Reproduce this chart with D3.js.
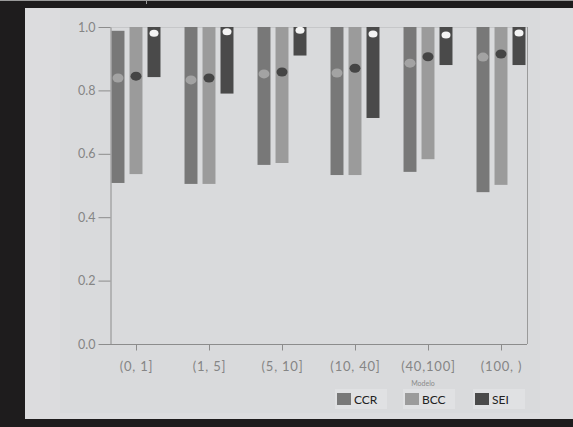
<!DOCTYPE html>
<html>
<head>
<meta charset="utf-8">
<script src="https://cdn.jsdelivr.net/npm/d3@7"></script>
<style>
    body { margin: 0; background: #1e1c1d; }
    svg { display: block; }
    .tick text { font-family: "Lato", "DejaVu Sans", sans-serif; fill: #858585; }
</style>
</head>
<body>
<div id="chart"></div>
<script>
// Categories on the x axis (bins) and the three series
var categories = ["(0, 1]", "(1, 5]", "(5, 10]", "(10, 40]", "(40,100]", "(100, )"];
var series = ["CCR", "BCC", "SEI"];
var yTicks = [0, 0.2, 0.4, 0.6, 0.8, 1.0];

// Range bars (max -> min) with a mean marker
var ccrMax = [0.988, 1, 1, 1, 1, 1];
var ccrMin = [0.508, 0.505, 0.565, 0.533, 0.543, 0.479];
var ccrMean = [0.839, 0.833, 0.852, 0.855, 0.886, 0.905];

var bccMax = [1, 1, 1, 1, 1, 1];
var bccMin = [0.536, 0.505, 0.571, 0.533, 0.583, 0.502];
var bccMean = [0.845, 0.839, 0.858, 0.870, 0.906, 0.915];

var seiMax = [1, 1, 1, 1, 1, 1];
var seiMin = [0.842, 0.790, 0.910, 0.713, 0.880, 0.880];
var seiMean = [0.980, 0.985, 0.990, 0.978, 0.975, 0.981];

(function () {
    "use strict";

    var W = 573, H = 427;
    var barFill = {CCR: "#787878", BCC: "#9b9b9b", SEI: "#4a4a4a"};
    var dotFill = {CCR: "#a3a3a3", BCC: "#454545", SEI: "#f4f4f4"};
    var dotR = {CCR: [5.5, 4.5], BCC: [5.5, 4.5], SEI: [4.5, 3.5]};
    var table = {
        CCR: {max: ccrMax, min: ccrMin, mean: ccrMean},
        BCC: {max: bccMax, min: bccMin, mean: bccMean},
        SEI: {max: seiMax, min: seiMin, mean: seiMean}
    };

    var svg = d3.select("#chart").append("svg")
        .attr("width", W).attr("height", H);

    // black frame and light page
    svg.append("rect").attr("width", W).attr("height", H).attr("fill", "#1e1c1d");
    svg.append("line").attr("x1", 0).attr("x2", W).attr("y1", 0.5).attr("y2", 0.5)
        .attr("stroke", "#9a9a9a");
    svg.append("line").attr("x1", 146.5).attr("x2", 146.5).attr("y1", 0).attr("y2", 4)
        .attr("stroke", "#9a9a9a");
    svg.append("rect").attr("x", 25).attr("y", 8).attr("width", W - 25).attr("height", 411)
        .attr("fill", "#dcdcde");
    svg.append("rect").attr("x", 60).attr("y", 8).attr("width", 480).attr("height", 405)
        .attr("fill", "#d9dadc");

    var y = d3.scaleLinear().domain([0, 1]).range([344, 27]);
    var x = d3.scalePoint().domain(categories).range([136, 501]);
    var sub = d3.scaleBand().domain(series).range([-27, 27])
        .paddingInner(0.28).paddingOuter(0.14);

    // plot box: top and right lines
    svg.append("line").attr("x1", 110).attr("x2", 527).attr("y1", y(1) + 0.5).attr("y2", y(1) + 0.5)
        .attr("stroke", "#c6c7c9");
    svg.append("line").attr("x1", 527.5).attr("x2", 527.5).attr("y1", y(1)).attr("y2", y(0))
        .attr("stroke", "#9a9a9a");

    // bars + mean markers
    series.forEach(function (s) {
        var g = svg.append("g").attr("class", "series-" + s);
        g.selectAll("rect").data(categories).enter().append("rect")
            .attr("x", function (d) { return x(d) + sub(s); })
            .attr("width", sub.bandwidth())
            .attr("y", function (d, i) { return y(table[s].max[i]); })
            .attr("height", function (d, i) { return y(table[s].min[i]) - y(table[s].max[i]); })
            .attr("fill", barFill[s]);
        g.selectAll("ellipse").data(categories).enter().append("ellipse")
            .attr("cx", function (d) { return x(d) + sub(s) + sub.bandwidth() / 2; })
            .attr("cy", function (d, i) { return y(table[s].mean[i]); })
            .attr("rx", dotR[s][0]).attr("ry", dotR[s][1])
            .attr("fill", dotFill[s]);
    });

    // y axis
    var yAxis = svg.append("g").attr("transform", "translate(110.5,0)")
        .call(d3.axisLeft(y).tickValues(yTicks).tickFormat(d3.format(".1f"))
            .tickSize(12).tickSizeOuter(0).tickPadding(3));
    yAxis.selectAll("path, line").attr("stroke", "#8c8c8c");
    yAxis.selectAll("text").style("font-size", "12.5px");

    // x axis
    var xAxis = svg.append("g").attr("transform", "translate(0," + (y(0) + 0.5) + ")")
        .call(d3.axisBottom(x).tickSize(6).tickSizeOuter(0).tickPadding(11));
    xAxis.select("path").attr("d", "M110,0H527");
    xAxis.selectAll("path, line").attr("stroke", "#8c8c8c");
    xAxis.selectAll("text").style("font-size", "13px").style("letter-spacing", "0.8px");

    svg.append("text").attr("x", 423).attr("y", 386).attr("text-anchor", "middle")
        .style("font-family", "Lato, 'DejaVu Sans', sans-serif")
        .style("font-size", "7px").attr("fill", "#8a8a8a").text("Modelo");

    // legend
    var legendX = [337, 405, 475];
    var legend = svg.append("g");
    series.forEach(function (s, i) {
        var item = legend.append("g").attr("transform", "translate(" + legendX[i] + ",389)");
        item.append("rect").attr("x", -2).attr("y", 0).attr("width", 52).attr("height", 20)
            .attr("fill", "#e0e1e3");
        item.append("rect").attr("x", 0).attr("y", 4).attr("width", 14).attr("height", 12)
            .attr("fill", barFill[s]);
        item.append("text").attr("x", 17).attr("y", 14.5)
            .style("font-family", "Lato, 'DejaVu Sans', sans-serif")
            .style("font-size", "12px").attr("fill", "#222").text(s);
    });
}());
</script>
</body>
</html>
